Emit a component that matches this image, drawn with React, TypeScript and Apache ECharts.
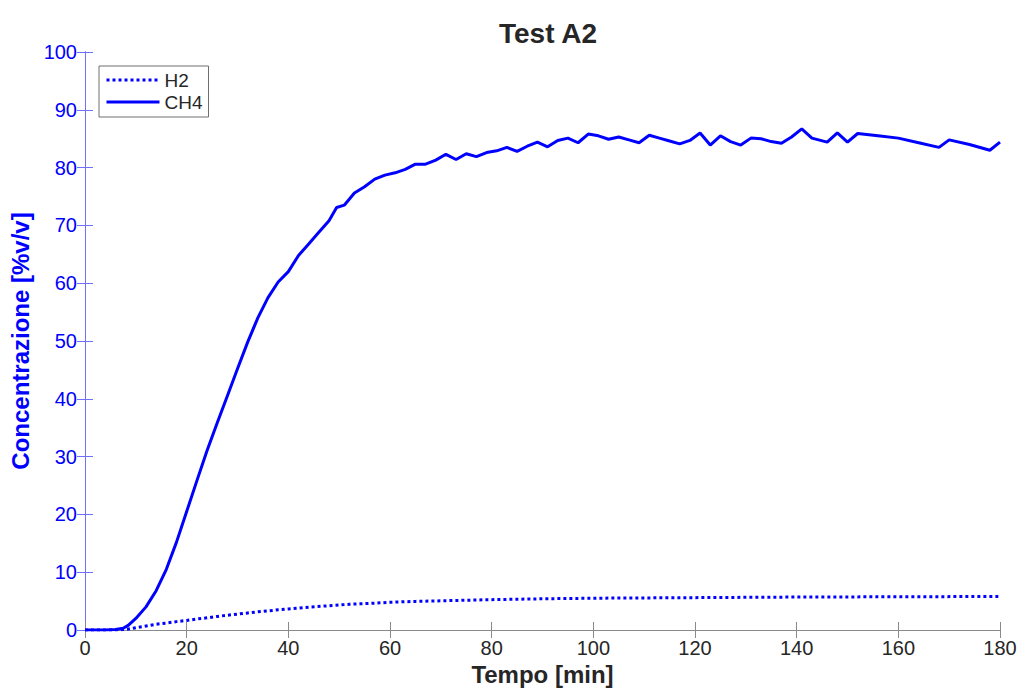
import React, { useEffect, useRef } from "react";
import * as echarts from "echarts";

const ch4Time = [0, 2, 4, 6, 7.5, 8.5, 10, 12, 14, 16, 18, 20, 22, 24, 26, 28, 30, 32, 34, 36, 38, 40, 42, 44, 46, 48, 49.5, 51, 53, 55, 57, 59, 61, 63, 65, 67, 69, 71, 73, 75, 77, 79, 81, 83, 85, 87, 89, 91, 93, 95, 97, 99, 101, 103, 105, 107, 109, 111, 113, 115, 117, 119, 121, 123, 125, 127, 129, 131, 133, 135, 137, 139, 141, 143, 146, 148, 150, 152, 156, 160, 164, 168, 170, 174, 178, 180];
const ch4Values = [0, 0, 0, 0.1, 0.3, 0.8, 2.0, 4.0, 6.8, 10.5, 15.2, 20.5, 25.8, 31.0, 35.8, 40.5, 45.2, 49.8, 54.0, 57.5, 60.2, 62.0, 64.8, 66.8, 68.8, 70.8, 73.1, 73.5, 75.6, 76.7, 78.0, 78.7, 79.1, 79.7, 80.6, 80.6, 81.3, 82.3, 81.4, 82.4, 81.9, 82.6, 82.9, 83.5, 82.8, 83.7, 84.4, 83.6, 84.7, 85.1, 84.3, 85.8, 85.5, 84.9, 85.3, 84.8, 84.3, 85.6, 85.1, 84.6, 84.1, 84.7, 86.0, 83.9, 85.5, 84.5, 83.9, 85.1, 85.0, 84.5, 84.2, 85.3, 86.7, 85.1, 84.4, 86.0, 84.4, 85.9, 85.5, 85.1, 84.3, 83.5, 84.8, 84.0, 83.0, 84.4];

const h2Time = [0, 2, 4, 6, 8, 10, 12, 14, 16, 18, 20, 22, 24, 26, 28, 30, 32, 34, 36, 38, 40, 44, 48, 52, 56, 60, 65, 70, 80, 90, 100, 110, 120, 140, 160, 180];
const h2Values = [0, 0, 0, 0, 0.1, 0.4, 0.7, 1.0, 1.2, 1.45, 1.65, 1.9, 2.1, 2.35, 2.55, 2.75, 2.95, 3.15, 3.3, 3.5, 3.65, 3.95, 4.2, 4.45, 4.6, 4.8, 4.95, 5.05, 5.25, 5.4, 5.5, 5.55, 5.6, 5.7, 5.75, 5.8];

const xTicks = [0, 20, 40, 60, 80, 100, 120, 140, 160, 180];
const yTicks = [0, 10, 20, 30, 40, 50, 60, 70, 80, 90, 100];

const BLUE = "#0000ff";
const AXIS_BLUE = "#7070ff";
const AXIS_GRAY = "#8a8a8a";
const DARK = "#262626";
const FONT = "Liberation Sans, Arial, sans-serif";

export default function App() {
  const ref = useRef<HTMLDivElement>(null);
  useEffect(() => {
    if (!ref.current) return;
    const chart = echarts.init(ref.current, null, { renderer: "svg" });
    const ch4 = ch4Time.map((t, i) => [t, ch4Values[i]]);
    const h2 = h2Time.map((t, i) => [t, h2Values[i]]);
    const xMin = xTicks[0];
    const xMax = xTicks[xTicks.length - 1];
    const yMin = yTicks[0];
    const yMax = yTicks[yTicks.length - 1];
    chart.setOption({
      animation: false,
      backgroundColor: "#ffffff",
      title: {
        text: "Test A2",
        left: 543,
        top: 14,
        textAlign: "center",
        textStyle: { fontFamily: FONT, fontSize: 28, fontWeight: "bold", color: DARK },
      },
      grid: { left: 85, right: 21, top: 52, bottom: 63 },
      legend: {
        left: 99,
        top: 66,
        orient: "vertical",
        backgroundColor: "#ffffff",
        borderColor: "#6e6e6e",
        borderWidth: 1,
        borderRadius: 0,
        padding: [3, 6, 4, 6],
        itemWidth: 53,
        itemHeight: 14,
        itemGap: 0,
        itemStyle: { opacity: 0 },
        lineStyle: { width: 3 },
        textStyle: { fontFamily: FONT, fontSize: 19, color: DARK, lineHeight: 22 },
        data: ["H2", "CH4"],
      },
      xAxis: [
        {
          type: "value",
          min: xMin,
          max: xMax,
          interval: 20,
          position: "bottom",
          name: "Tempo [min]",
          nameLocation: "middle",
          nameGap: 29,
          nameTextStyle: { fontFamily: FONT, fontSize: 24, fontWeight: "bold", color: DARK },
          axisLine: { show: true, lineStyle: { color: AXIS_GRAY, width: 1 } },
          axisTick: { show: true, inside: true, length: 8, lineStyle: { color: AXIS_GRAY } },
          axisLabel: { fontFamily: FONT, fontSize: 20, color: DARK, margin: 8 },
          splitLine: { show: false },
        },
        {
          type: "value",
          min: xMin,
          max: xMax,
          interval: 20,
          position: "top",
          axisLine: { show: true, lineStyle: { color: AXIS_GRAY, width: 1 } },
          axisTick: { show: true, inside: true, length: 8, lineStyle: { color: AXIS_GRAY } },
          axisLabel: { show: false },
          splitLine: { show: false },
        },
      ],
      yAxis: [
        {
          type: "value",
          min: yMin,
          max: yMax,
          interval: 10,
          position: "left",
          name: "Concentrazione [%v/v]",
          nameLocation: "middle",
          nameGap: 50,
          nameTextStyle: { fontFamily: FONT, fontSize: 24, fontWeight: "bold", color: BLUE },
          axisLine: { show: true, lineStyle: { color: AXIS_BLUE, width: 1 } },
          axisTick: { show: true, inside: true, length: 8, lineStyle: { color: AXIS_BLUE } },
          axisLabel: { fontFamily: FONT, fontSize: 20, color: BLUE, margin: 8 },
          splitLine: { show: false },
        },
        {
          type: "value",
          min: yMin,
          max: yMax,
          interval: 10,
          position: "right",
          axisLine: { show: true, lineStyle: { color: AXIS_BLUE, width: 1 } },
          axisTick: { show: true, inside: true, length: 8, lineStyle: { color: AXIS_BLUE } },
          axisLabel: { show: false },
          splitLine: { show: false },
        },
      ],
      series: [
        {
          name: "H2",
          type: "line",
          data: h2,
          showSymbol: false,
          symbol: "none",
          color: BLUE,
          lineStyle: { color: BLUE, width: 3, type: [3, 3], cap: "butt" },
        },
        {
          name: "CH4",
          type: "line",
          data: ch4,
          showSymbol: false,
          symbol: "none",
          color: BLUE,
          lineStyle: { color: BLUE, width: 3, type: "solid" },
        },
      ],
    });
    return () => chart.dispose();
  }, []);
  return <div ref={ref} style={{ width: 1021, height: 693, position: "absolute", left: 0, top: 0 }} />;
}
